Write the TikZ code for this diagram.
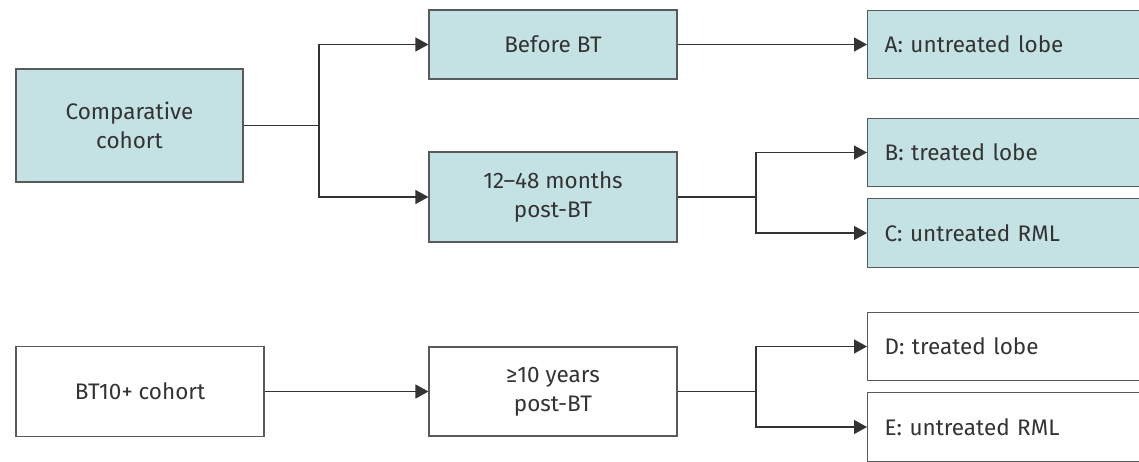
\documentclass[tikz,border=0pt]{standalone}
\usepackage{fontspec}
\setmainfont{Fira Sans}
\usepackage{xcolor}
\usepackage{tikz}
\usetikzlibrary{arrows.meta}
\definecolor{boxfill}{HTML}{C4E2E4}
\definecolor{boxline}{HTML}{5A5A5A}
\definecolor{wire}{HTML}{333333}
\definecolor{ink}{HTML}{333333}

\begin{document}
\begin{tikzpicture}[x=0.02cm,y=-0.02cm]
    \tikzstyle{box}=[rectangle,draw=boxline,line width=0.7pt,text=ink,align=center,inner sep=0pt,font=\fontsize{12.8}{16.5}\selectfont]
    \tikzstyle{tealbox}=[box,fill=boxfill]
    \tikzstyle{outbox}=[box,anchor=west,align=left,text width=5.8cm,inner xsep=0.34cm,minimum height=1.37cm]
    \tikzstyle{wireline}=[draw=wire,line width=0.75pt]
    \tikzstyle{arr}=[wireline,-{Triangle[length=0.26cm,width=0.28cm]}]

  \clip (0,0) rectangle (1139,462);

  % comparative cohort
  \node (comp) at (129.5,125.5) [tealbox,minimum width=4.54cm,minimum height=2.26cm] {Comparative\\cohort};
  \node (before) at (553,44.5) [tealbox,minimum width=4.96cm,minimum height=1.38cm] {Before BT};
  \node (months) at (553,197) [tealbox,minimum width=4.96cm,minimum height=1.8cm] {12–48 months\\post-BT};
  \node (outA) at (867,44.5) [outbox,fill=boxfill] {A: untreated lobe};
  \node (outB) at (867,152.5) [outbox,fill=boxfill] {B: treated lobe};
  \node (outC) at (867,233) [outbox,fill=boxfill] {C: untreated RML};

  % BT10+ cohort
  \node (bt10) at (140,391.5) [box,fill=white,minimum width=4.96cm,minimum height=1.8cm] {BT10+ cohort};
  \node (years) at (553,391.5) [box,fill=white,minimum width=4.96cm,minimum height=1.78cm] {≥10 years\\post-BT};
  \node (outD) at (867,346.5) [outbox,fill=white] {D: treated lobe};
  \node (outE) at (867,427) [outbox,fill=white] {E: untreated RML};

  \coordinate (j1) at (319,125.5);
  \coordinate (j2) at (756,197);
  \coordinate (j3) at (756,391.5);

  \path[wireline] (comp) edge (j1);
  \draw[arr] (j1) |- (before);
  \draw[arr] (j1) |- (months);
  \draw[arr] (before) -- (outA);

  \path[wireline] (months) edge (j2);
  \draw[arr] (j2) |- (outB);
  \draw[arr] (j2) |- (outC);

  \draw[arr] (bt10) -- (years);
  \path[wireline] (years) edge (j3);
  \draw[arr] (j3) |- (outD);
  \draw[arr] (j3) |- (outE);
\end{tikzpicture}
\end{document}
